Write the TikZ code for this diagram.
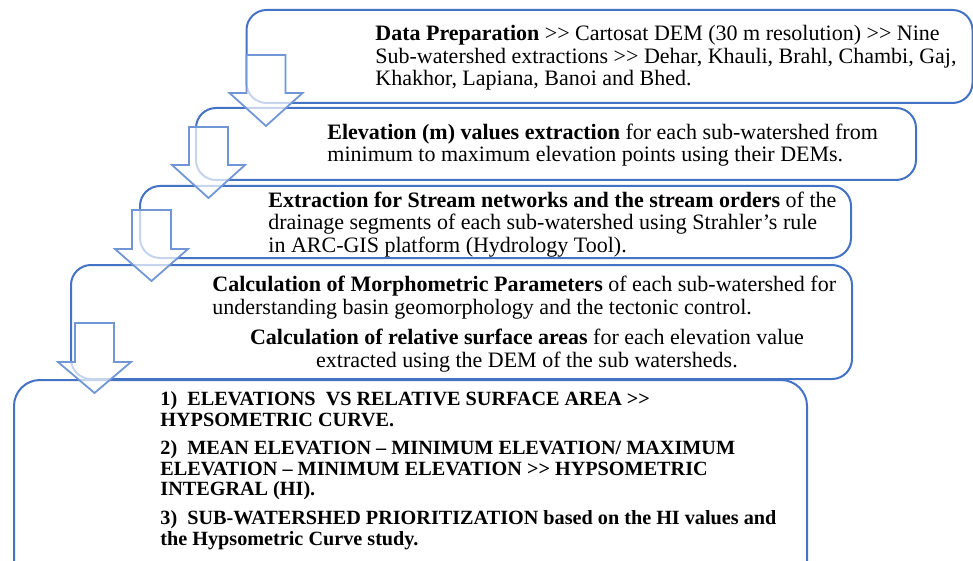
\documentclass[tikz,border=0pt]{standalone}
\usepackage{fontspec}
\setmainfont{Liberation Serif}
\usetikzlibrary{positioning}

\definecolor{boxblue}{HTML}{4472C4}
\definecolor{arrowblue}{HTML}{7096D6}

\tikzset{
    stage/.style={draw=boxblue, line width=1pt, rounded corners=10pt},
    blockarrow/.style={draw=arrowblue, line width=0.9pt, fill=white, fill opacity=0.7, line join=miter},
    steptext/.style={anchor=base west, align=left, inner sep=0pt, font=\fontsize{11}{11.25}\selectfont},
    resulttext/.style={anchor=base west, align=left, inner sep=0pt, font=\fontsize{10.1}{10.3}\selectfont\bfseries}
}

\begin{document}
\begin{tikzpicture}[x=0.5pt, y=-0.5pt]
    \useasboundingbox (0,0) rectangle (973,561);
    \clip (0,0) rectangle (973,561);

    % Stage boxes
    \node[stage, minimum width=363pt, minimum height=46.5pt] (prep) at (609.5,56.5) {};
    \node[stage, minimum width=360pt, minimum height=36pt] (elev) at (556,144) {};
    \node[stage, minimum width=355.5pt, minimum height=36pt] (stream) at (495.5,222) {};
    \node[stage, minimum width=390.5pt, minimum height=57pt] (morph) at (461.5,322) {};
    \node[stage, rounded corners=13pt, minimum width=396.5pt, minimum height=110pt] (result) at (410.5,490) {};

    % Texts (anchored at the baseline of their last line)
    \node[steptext] (preptext) at (375,86) {\textbf{Data Preparation} >{}> Cartosat DEM (30 m resolution) >{}> Nine\\
        Sub-watershed extractions >{}> Dehar, Khauli, Brahl, Chambi, Gaj,\\
        Khakhor, Lapiana, Banoi and Bhed.};
    \node[steptext] (elevtext) at (327,162) {\textbf{Elevation (m) values extraction} for each sub-watershed from\\
        minimum to maximum elevation points using their DEMs.};
    \node[steptext] (streamtext) at (268,252) {\textbf{Extraction for Stream networks and the stream orders} of the\\
        drainage segments of each sub-watershed using Strahler's rule\\
        in ARC-GIS platform (Hydrology Tool).};
    \node[steptext] (morphtext) at (212,314) {\textbf{Calculation of Morphometric Parameters} of each sub-watershed for\\
        understanding basin geomorphology and the tectonic control.};
    \node[steptext, anchor=base, align=center] (areatext) at (527,367) {\textbf{Calculation of relative surface areas} for each elevation value\\
        extracted using the DEM of the sub watersheds.};
    \node[resulttext] (resulttxt) at (160,545) {1)\ \ ELEVATIONS\ \ VS RELATIVE SURFACE AREA >{}>\\
        HYPSOMETRIC CURVE.\\[4pt]
        2)\ \ MEAN ELEVATION -- MINIMUM ELEVATION/ MAXIMUM\\
        ELEVATION -- MINIMUM ELEVATION >{}> HYPSOMETRIC\\
        INTEGRAL (HI).\\[4pt]
        3)\ \ SUB-WATERSHED PRIORITIZATION based on the HI values and\\
        the Hypsometric Curve study.};

    % Down arrows between stages
    \draw[blockarrow] (246.5,55) -- ++(39,0) -- ++(0,38) -- ++(17,0) -- ++(-36.5,33) -- ++(-36.5,-33) -- ++(17,0) -- cycle;
    \draw[blockarrow] (189,127) -- ++(39,0) -- ++(0,38) -- ++(17,0) -- ++(-36.5,33) -- ++(-36.5,-33) -- ++(17,0) -- cycle;
    \draw[blockarrow] (132,210) -- ++(39,0) -- ++(0,39) -- ++(17,0) -- ++(-36.5,32) -- ++(-36.5,-32) -- ++(17,0) -- cycle;
    \draw[blockarrow] (75,323) -- ++(39,0) -- ++(0,39) -- ++(17,0) -- ++(-36.5,31) -- ++(-36.5,-31) -- ++(17,0) -- cycle;
\end{tikzpicture}
\end{document}
